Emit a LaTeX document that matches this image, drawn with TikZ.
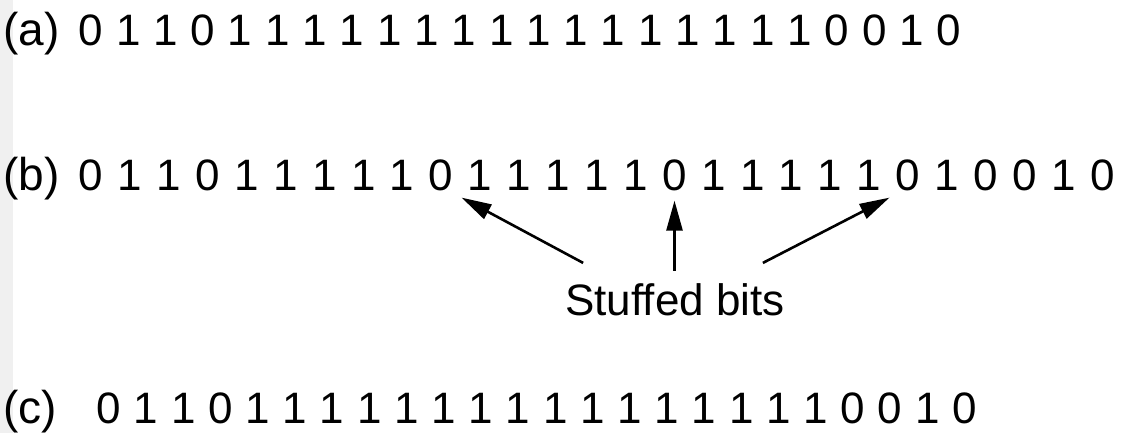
\documentclass[tikz,border=0pt]{standalone}
\usepackage{fontspec}
\setmainfont{Liberation Sans}
\usetikzlibrary{arrows.meta,calc}
\begin{document}
\begin{tikzpicture}[x=1pt,y=-1pt,
  bits/.style={font=\fontsize{44}{50}\selectfont, inner sep=0pt, anchor=base},
  tag/.style={font=\fontsize{46}{50}\selectfont, inner sep=0pt, anchor=base west},
  stuffarrow/.style={line width=2.6pt, -{Triangle[length=30pt,width=16pt]}}]
\useasboundingbox (0,0) rectangle (1129,433);
% faint strip along the left edge
\fill[black!6] (0,0) rectangle (13,433);

% (a) original bit string
\node[tag] (la) at (3,46) {(a)};
\foreach [count=\i] \d in {0,1,1,0,1,1,1,1,1,1,1,1,1,1,1,1,1,1,1,1,0,0,1,0}
  \node[bits] (a\i) at ({91+(\i-1)*37.3},46) {\d};

% (b) after stuffing
\node[tag] (lb) at (3,190) {(b)};
\foreach [count=\i] \d in {0,1,1,0,1,1,1,1,1,0,1,1,1,1,1,0,1,1,1,1,1,0,1,0,0,1,0}
  \node[bits] (b\i) at ({91+(\i-1)*38.9},190) {\d};

% (c) after destuffing
\node[tag] (lc) at (3,423) {(c)};
\foreach [count=\i] \d in {0,1,1,0,1,1,1,1,1,1,1,1,1,1,1,1,1,1,1,1,0,0,1,0}
  \node[bits] (c\i) at ({109+(\i-1)*37.2},423) {\d};

% label and arrows to the stuffed zeros
\node[bits] (lbl) at (675,315) {Stuffed bits};
\coordinate (t1) at ($(lbl.north west)+(18,-20)$);
\coordinate (t2) at (b16.south |- {$(lbl.north)+(0,-12)$});
\coordinate (t3) at ($(lbl.north east)+(-22,-20)$);
\draw[stuffarrow] (t1) -- ($(b10.south east)+(8,7)$);
\draw[stuffarrow] (t2) -- ($(b16.south)+(0,10)$);
\draw[stuffarrow] (t3) -- ($(b22.south west)+(-6,7)$);
\end{tikzpicture}
\end{document}
